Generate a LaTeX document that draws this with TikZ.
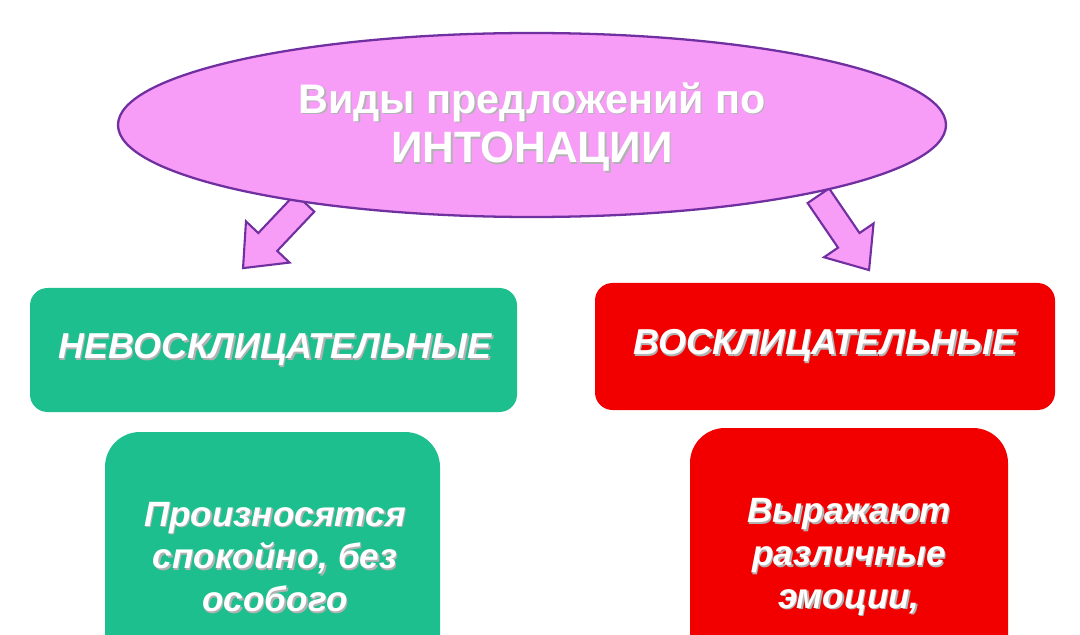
\documentclass[tikz,border=0pt]{standalone}
\usepackage{fontspec}
\setmainfont{Liberation Sans}
\usetikzlibrary{shapes.geometric}
\definecolor{pinkf}{HTML}{F79CF7}
\definecolor{purp}{HTML}{7030A0}
\definecolor{teal}{HTML}{1DBF8F}
\definecolor{redf}{HTML}{F20000}
\newcommand{\shtext}[3]{%
  \node[text=gray!60,align=center,font=#3] at ([shift={(1.5,1.5)}]#1) {#2};
  \node[text=white,align=center,font=#3] at (#1) {#2};}
\newcommand{\blockarrow}{(-10,-13)--(44,-13)--(44,-30)--(80,0)--(44,30)--(44,13)--(-10,13)--cycle}
\tikzset{
  barrow/.style={draw=purp,fill=pinkf,line width=1.2pt,line join=miter}
}
\begin{document}
\begin{tikzpicture}[x=0.02cm,y=-0.02cm]
\useasboundingbox (0,0) rectangle (1080,635);
\clip (0,0) rectangle (1080,635);
\begin{scope}[shift={(298,210)},rotate=226.6]
\draw[barrow] \blockarrow;
\end{scope}
\begin{scope}[shift={(824,204)},rotate=-55.7]
\draw[barrow] \blockarrow;
\end{scope}
\node[ellipse,draw=purp,line width=1.3pt,fill=pinkf,minimum width=828*0.02cm,minimum height=184*0.02cm] (top) at (532,125) {};
\coordinate (tt) at (532,127);
\shtext{tt}{Виды предложений по\\\fontsize{25}{28}\selectfont ИНТОНАЦИИ}{\bfseries\fontsize{23.5}{28}\selectfont}
\fill[teal,rounded corners=0.35cm] (30,288) rectangle (517,412);
\coordinate (lb) at (275,350);
\shtext{lb}{НЕВОСКЛИЦАТЕЛЬНЫЕ}{\bfseries\itshape\fontsize{20.5}{24}\selectfont}
\fill[redf,rounded corners=0.35cm] (595,283) rectangle (1055,410);
\coordinate (rb) at (825,346);
\shtext{rb}{ВОСКЛИЦАТЕЛЬНЫЕ}{\bfseries\itshape\fontsize{20.5}{24}\selectfont}
\fill[teal,rounded corners=0.7cm] (105,432) rectangle (440,700);
\coordinate (ld) at (275,557);
\shtext{ld}{Произносятся\\спокойно, без\\особого}{\bfseries\itshape\fontsize{20}{24.4}\selectfont}
\fill[redf,rounded corners=0.7cm] (690,428) rectangle (1008,700);
\coordinate (rd) at (849,557);
\shtext{rd}{Выражают\\различные\\эмоции,}{\bfseries\itshape\fontsize{20}{24.4}\selectfont}
\end{tikzpicture}
\end{document}
